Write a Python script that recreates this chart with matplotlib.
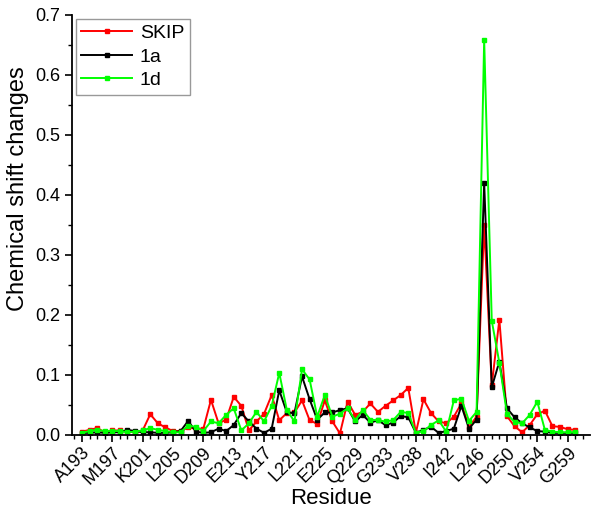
import matplotlib
matplotlib.use("Agg")
import matplotlib.pyplot as plt
from matplotlib.ticker import MultipleLocator, FixedLocator

plt.rcParams['font.family'] = ['Liberation Sans', 'DejaVu Sans']

# tick labels on the residue axis (every 4th position)
residue_labels = ["A193", "M197", "K201", "L205", "D209", "E213", "Y217", "L221",
                  "E225", "Q229", "G233", "V238", "I242", "L246", "D250", "V254", "G259"]

skip = [0.005, 0.008, 0.011, 0.004, 0.007, 0.007, 0.005, 0.004, 0.007, 0.034,
        0.019, 0.012, 0.006, 0.006, 0.012, 0.010, 0.010, 0.058, 0.019, 0.025,
        0.063, 0.048, 0.007, 0.022, 0.035, 0.066, 0.024, 0.036, 0.037, 0.057,
        0.024, 0.018, 0.057, 0.022, 0.002, 0.055, 0.033, 0.038, 0.052, 0.038,
        0.048, 0.057, 0.066, 0.078, 0.003, 0.059, 0.036, 0.022, 0.019, 0.030,
        0.052, 0.013, 0.030, 0.350, 0.082, 0.192, 0.031, 0.014, 0.004, 0.016,
        0.034, 0.040, 0.014, 0.013, 0.009, 0.008]

s1a = [0.003, 0.003, 0.004, 0.003, 0.004, 0.004, 0.008, 0.006, 0.004, 0.004,
       0.003, 0.003, 0.004, 0.006, 0.023, 0.005, 0.003, 0.004, 0.010, 0.006,
       0.016, 0.036, 0.022, 0.010, 0.003, 0.010, 0.074, 0.037, 0.036, 0.097,
       0.059, 0.025, 0.037, 0.037, 0.041, 0.044, 0.022, 0.033, 0.020, 0.024,
       0.016, 0.020, 0.031, 0.029, 0.003, 0.008, 0.013, 0.003, 0.006, 0.010,
       0.048, 0.010, 0.025, 0.420, 0.079, 0.122, 0.044, 0.029, 0.019, 0.012,
       0.006, 0.005, 0.003, 0.003, 0.003, 0.003]

s1d = [0.003, 0.006, 0.008, 0.006, 0.006, 0.006, 0.004, 0.005, 0.007, 0.011,
       0.008, 0.006, 0.004, 0.004, 0.015, 0.013, 0.006, 0.022, 0.019, 0.033,
       0.044, 0.007, 0.019, 0.038, 0.022, 0.048, 0.103, 0.041, 0.022, 0.109,
       0.092, 0.030, 0.066, 0.030, 0.035, 0.044, 0.024, 0.041, 0.025, 0.024,
       0.022, 0.024, 0.038, 0.036, 0.003, 0.006, 0.016, 0.024, 0.005, 0.057,
       0.060, 0.023, 0.038, 0.658, 0.190, 0.120, 0.035, 0.021, 0.019, 0.033,
       0.055, 0.008, 0.005, 0.004, 0.004, 0.004]

pos = list(range(len(skip)))

fig = plt.figure(figsize=(5.94, 5.15), dpi=100)
ax = fig.add_axes([0.1207, 0.156, 0.872, 0.815])

ax.plot(pos, skip, color='#ff0000', marker='s', markersize=3.5, lw=1.4, label='SKIP')
ax.plot(pos, s1a, color='black', marker='s', markersize=3.5, lw=1.4, label='1a')
ax.plot(pos, s1d, color='#00ff00', marker='s', markersize=3.5, lw=1.4, label='1d')

ax.set_xlim(-1.35, 66.9)
ax.set_ylim(0, 0.7)

ax.xaxis.set_major_locator(FixedLocator(list(range(0, 4 * len(residue_labels), 4))))
ax.xaxis.set_minor_locator(MultipleLocator(1))
ax.set_xticklabels(residue_labels, rotation=45, ha='right', rotation_mode='anchor')
ax.yaxis.set_major_locator(MultipleLocator(0.1))
ax.yaxis.set_minor_locator(MultipleLocator(0.05))
ax.yaxis.set_major_formatter(matplotlib.ticker.FormatStrFormatter('%.1f'))

ax.tick_params(which='major', direction='out', length=5, width=1.2, labelsize=13)
ax.tick_params(which='minor', direction='out', length=3, width=1.0)
ax.tick_params(axis='x', pad=2)
ax.tick_params(axis='y', pad=3)

for side in ['top', 'right']:
    ax.spines[side].set_visible(False)
for side in ['left', 'bottom']:
    ax.spines[side].set_linewidth(1.3)

ax.set_xlabel('Residue', fontsize=16, labelpad=0)
ax.set_ylabel('Chemical shift changes', fontsize=17)
ax.yaxis.set_label_coords(-0.082, 0.587)

leg = ax.legend(loc='upper left', fontsize=14, frameon=True, fancybox=False,
                borderaxespad=0.2, handlelength=2.6, handletextpad=0.4,
                labelspacing=0.3, borderpad=0.3)
leg.get_frame().set_edgecolor('#808080')
leg.get_frame().set_linewidth(1.0)

fig.savefig('out.png', dpi=100)
